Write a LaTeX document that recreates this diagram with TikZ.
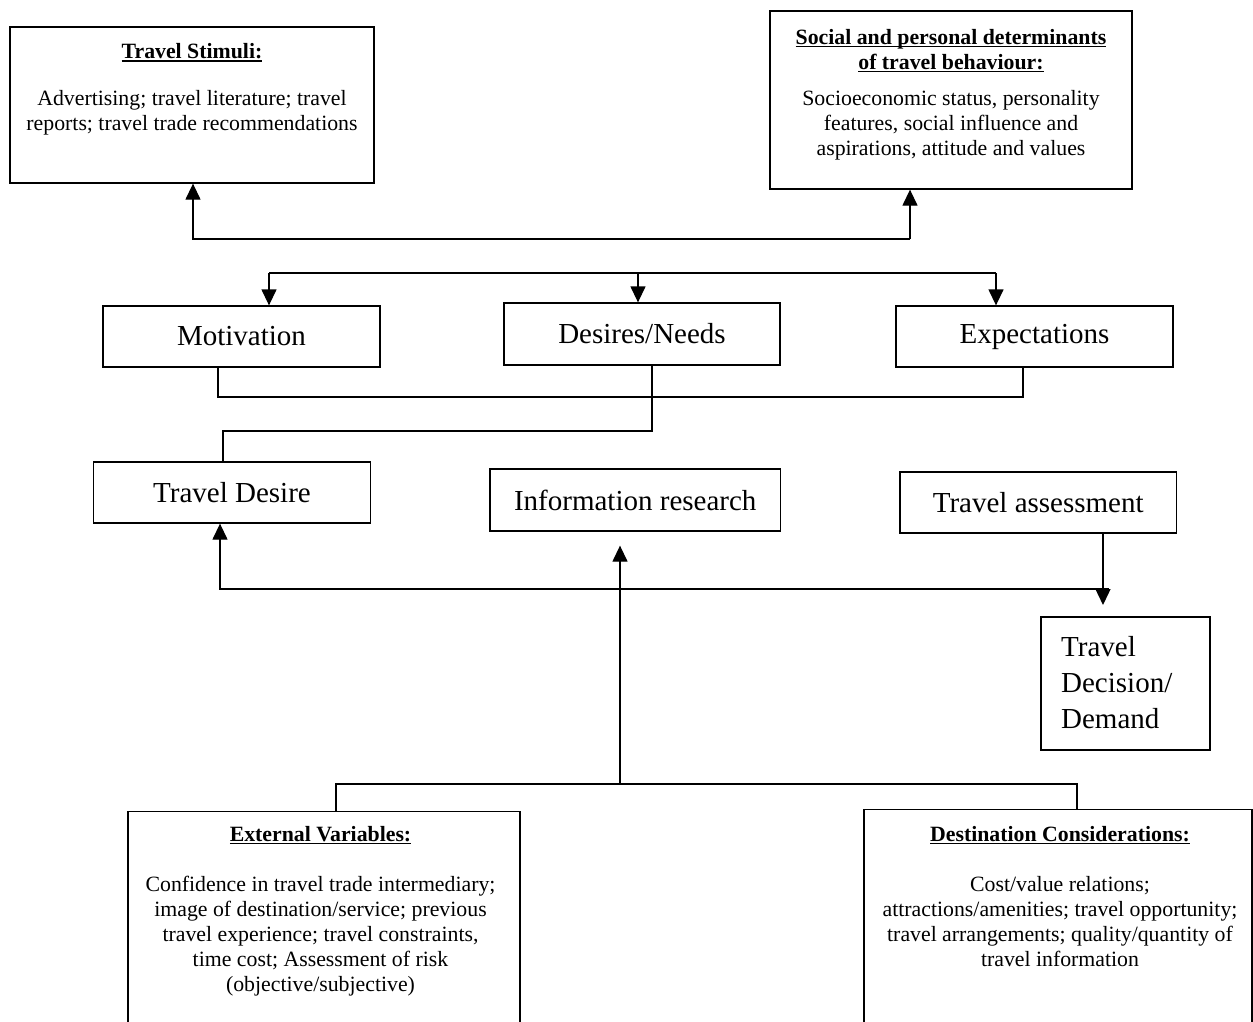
\documentclass[tikz,border=0pt]{standalone}
\usepackage{fontspec}
\setmainfont{Liberation Serif}
\usetikzlibrary{arrows.meta}
% underline set at a fixed depth below the baseline
\newcommand\ulined[1]{\setbox0\hbox{#1}\rlap{\rule[-3pt]{\wd0}{1.3pt}}\box0}
\begin{document}
\begin{tikzpicture}[x=1pt,y=-1pt,
  line width=1.3pt,
  box/.style={draw,line width=1.3pt,inner sep=0pt,anchor=center},
  big/.style={font=\fontsize{29}{36}\selectfont},
  small/.style={font=\fontsize{21.8}{25}\selectfont,align=center,anchor=base,inner sep=0pt},
  arr/.style={-{Triangle[length=16pt,width=15pt]}},
]
\useasboundingbox (0,0) rectangle (1253,1021);
\clip (0,0) rectangle (1253,1021);

% upper determinant boxes (text nodes placed by the baseline of their last line)
\node[box,minimum width=364,minimum height=156] (stim) at (192,105) {};
\node[small] (stimtxt) at (192,130.7) {\textbf{\ulined{Travel Stimuli:}}\\[22pt]Advertising; travel literature; travel\\reports; travel trade recommendations};
\node[box,minimum width=362,minimum height=178] (soc) at (951,100) {};
\node[small] (soctxt) at (951,155) {\textbf{\ulined{Social and personal determinants}}\\\textbf{\ulined{of travel behaviour:}}\\[11pt]Socioeconomic status, personality\\features, social influence and\\aspirations, attitude and values};

% motivation row
\node[box,big,minimum width=277,minimum height=61] (mot) at (241.5,336.5) {Motivation};
\node[box,big,minimum width=276,minimum height=62] (des) at (642,334) {Desires/Needs};
\node[box,big,minimum width=277,minimum height=61] (exp) at (1034.5,336.5) {Expectations};

% process row
\node[box,big,minimum width=277,minimum height=61] (td) at (232,492.5) {Travel Desire};
\node[box,big,minimum width=290.5,minimum height=62] (ir) at (635.25,500) {Information research};
\node[box,big,minimum width=276.5,minimum height=61] (ta) at (1038.25,502.5) {Travel assessment};

% outcome
\node[box,minimum width=169,minimum height=133] (dec) at (1125.5,683.5) {};
\node[big,anchor=base west,align=left,inner sep=0pt] (dectxt) at (1060.5,728) {Travel\\Decision/\\Demand};

% lower variable boxes
\node[box,minimum width=392,minimum height=260] (ext) at (324,941.5) {};
\node[small] (exttxt) at (320.5,991.7) {\textbf{\ulined{External Variables:}}\\[25.7pt]Confidence in travel trade intermediary;\\image of destination/service; previous\\travel experience; travel constraints,\\time cost; Assessment of risk\\(objective/subjective)};
\node[box,minimum width=388,minimum height=260] (dst) at (1058,939.5) {};
\node[small] (dsttxt) at (1060,966.7) {\textbf{\ulined{Destination Considerations:}}\\[25.7pt]Cost/value relations;\\attractions/amenities; travel opportunity;\\travel arrangements; quality/quantity of\\travel information};

% links to the determinant boxes
\coordinate (t1) at (193,239);
\coordinate (t2) at (910,239);
\draw[arr] (t2) -- (t1) -- (t1 |- stim.south);
\draw[arr] (t2) -- (t2 |- soc.south);

% distribution to the motivation row
\coordinate (d1) at (269,273);
\coordinate (d2) at (638,273);
\coordinate (d3) at (996,273);
\draw (d1) -- (d3);
\draw[arr] (d1) -- (d1 |- mot.north);
\draw[arr] (d2) -- (d2 |- des.north);
\draw[arr] (d3) -- (d3 |- exp.north);

% collector below the motivation row
\coordinate (c1) at (218,397);
\coordinate (c2) at (1023,397);
\draw (c1 |- mot.south) -- (c1) -- (c2) -- (c2 |- exp.south);
\coordinate (c3) at (652,431);
\coordinate (c4) at (223,431);
\draw (c3 |- des.south) -- (c3) -- (c4) -- (c4 |- td.north);

% feedback line and decision arrow
\coordinate (f1) at (220,589);
\coordinate (f2) at (1109,589);
\draw[arr] (f2) -- (f1) -- (f1 |- td.south);
\coordinate (f3) at (1103,605);
\draw[arr] (f3 |- ta.south) -- (f3);

% lower collector into information research
\coordinate (b1) at (336,784);
\coordinate (b2) at (1077,784);
\coordinate (b3) at (620,784);
\draw (b1 |- ext.north) -- (b1) -- (b2) -- (b2 |- dst.north);
\draw[arr,shorten >=14pt] (b3) -- (b3 |- ir.south);
\end{tikzpicture}
\end{document}
